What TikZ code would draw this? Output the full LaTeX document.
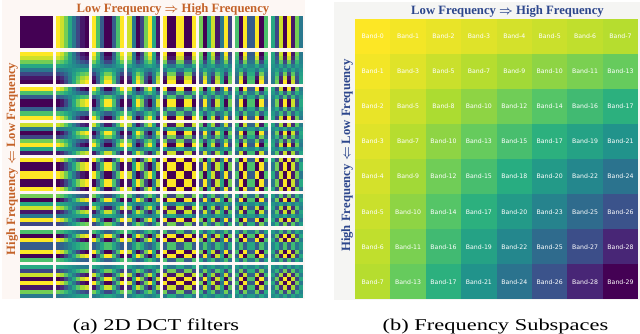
\documentclass[tikz,border=0pt]{standalone}
\usepackage{fontspec}
\setmainfont{Liberation Serif}
\newfontfamily\bandfont{DejaVu Sans}
\usetikzlibrary{calc}
\definecolor{vir0}{RGB}{68,1,84}
\definecolor{vir1}{RGB}{72,37,118}
\definecolor{vir2}{RGB}{59,82,139}
\definecolor{vir3}{RGB}{44,114,142}
\definecolor{vir4}{RGB}{33,145,140}
\definecolor{vir5}{RGB}{40,174,128}
\definecolor{vir6}{RGB}{94,201,98}
\definecolor{vir7}{RGB}{173,220,48}
\definecolor{vir8}{RGB}{253,231,37}
\definecolor{dctback}{RGB}{253,247,244}
\definecolor{bandback}{RGB}{245,245,243}
\definecolor{dcttitle}{RGB}{196,98,40}
\definecolor{bandtitle}{RGB}{44,70,140}
\def\dctmax{{1,0.98079,0.92388,0.98079,0.70711,0.98079,0.92388,0.98079}}
\newcommand{\setviridis}[1]{%
  % value in [0,1] -> colour vircur, linear between nine viridis samples
  \pgfmathsetmacro\virs{min(max(#1,0),1)*8}%
  \pgfmathtruncatemacro\virk{min(floor(\virs),7)}%
  \pgfmathtruncatemacro\virkk{\virk+1}%
  \pgfmathsetmacro\virf{(\virs-\virk)*100}%
  \colorlet{vircur}{vir\virkk!\virf!vir\virk}%
}

\begin{document}
\begin{tikzpicture}[x=1pt,y=-1pt,
  bandcell/.style={minimum width=35.6pt,minimum height=35.2pt,inner sep=0pt,
    text=white,font=\bandfont\fontsize{6.2}{7}\selectfont},
  paneltitle/.style={font=\bfseries\boldmath\fontsize{12.7}{14}\selectfont,inner sep=0pt,anchor=base},
  subcaption/.style={font=\fontsize{16.5}{18}\selectfont,inner sep=0pt,anchor=base,
    xscale=1.36,transform shape}]
  \useasboundingbox (0,0) rectangle (640,334);
  \fill[dctback] (2,0) rectangle (305,299);
  \fill[bandback] (334,2) rectangle (640,300);

  % 2D DCT basis, tile (row r, column c) of 8x8 pixels
  \foreach \r in {0,...,7}{
    \foreach \c in {0,...,7}{
      \foreach \y in {0,...,7}{
        \foreach \x in {0,...,7}{
          \pgfmathsetmacro\dctval{(\r+\c==0) ? 0 :
            (cos((2*\x+1)*\c*11.25)*cos((2*\y+1)*\r*11.25)/(\dctmax[\c]*\dctmax[\r])+1)/2}
          \setviridis{\dctval}
          \fill[vircur] (20+35.8*\c+4.1*\x,16+35.6*\r+4.05*\y) rectangle ++(4.15,4.1);
        }
      }
    }
  }
  \node[paneltitle,text=dcttitle] (dcttop) at (173,13) {Low Frequency $\Rightarrow$ High Frequency};
  \node[paneltitle,text=dcttitle,rotate=90] (dctside) at (15,159) {High Frequency $\Leftarrow$ Low Frequency};

  % frequency subspaces
  \foreach \bandrow [count=\i from 0] in {{0,1,2,3,4,5,6,7},{1,3,5,7,9,10,11,13},
      {2,5,8,10,12,14,16,17},{3,7,10,13,15,17,19,21},{4,9,12,15,18,20,22,24},
      {5,10,14,17,20,23,25,26},{6,11,16,19,22,25,27,28},{7,13,17,21,24,26,28,29}}{
    \foreach \b [count=\j from 0] in \bandrow{
      \pgfmathsetmacro\bandval{1-((\i+1)*(\j+1)-1)/63}
      \setviridis{\bandval}
      \node[bandcell,fill=vircur] (band\i\j) at (372.7+35.4*\j,36.5+35.04*\i) {Band-\b};
    }
  }
  \node[paneltitle,text=bandtitle] (bandtop) at (507.5,14.5) {Low Frequency $\Rightarrow$ High Frequency};
  \node[paneltitle,text=bandtitle,rotate=90] (bandside) at (350,155.5) {High Frequency $\Leftarrow$ Low Frequency};

  \node[subcaption] (capdct) at (156,330) {(a) 2D DCT filters};
  \node[subcaption] (capband) at (495.5,330) {(b) Frequency Subspaces};
\end{tikzpicture}
\end{document}
